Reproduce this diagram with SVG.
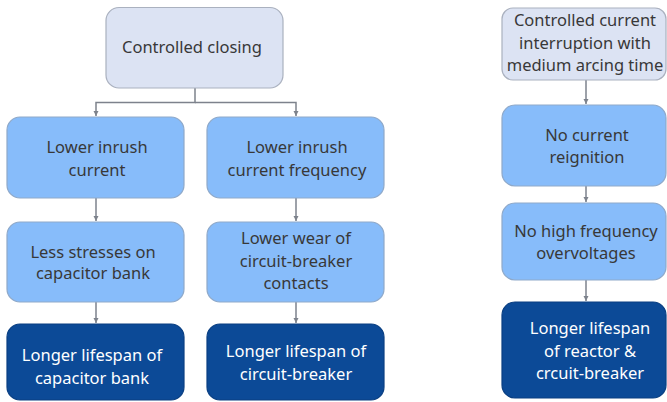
<svg xmlns="http://www.w3.org/2000/svg" width="667" height="402" viewBox="0 0 667 402">
<style>
.top{fill:#dce3f3;stroke:#aab1bf;stroke-width:1.2}
.mid{fill:#87bcfa;stroke:#8fa9c9;stroke-width:1.2}
.dark{fill:#0c4a97;stroke:#0a3f82;stroke-width:1.2}
text{font-family:"Noto Sans","Open Sans",sans-serif;font-size:16.5px;text-anchor:middle}
.t{fill:#383838}
.w{fill:#ffffff}
.c{fill:none;stroke:#7d828c;stroke-width:1.5}
</style>
<defs>
<marker id="ah" markerWidth="6" markerHeight="6" refX="5" refY="3" orient="auto" markerUnits="userSpaceOnUse">
<path d="M0,0.5 L5,3 L0,5.5 z" fill="#7d828c"/>
</marker>
</defs>
<rect width="667" height="402" fill="#ffffff"/>
<g id="connectors">
<path class="c" d="M195,88 V102.5 H96 V116" marker-end="url(#ah)"/>
<path class="c" d="M195,102.5 H296 V116" marker-end="url(#ah)"/>
<path class="c" d="M96,198 V221" marker-end="url(#ah)"/>
<path class="c" d="M296,198 V221" marker-end="url(#ah)"/>
<path class="c" d="M96,302 V323" marker-end="url(#ah)"/>
<path class="c" d="M296,302 V323" marker-end="url(#ah)"/>
<path class="c" d="M586,80 V104" marker-end="url(#ah)"/>
<path class="c" d="M586,186 V202" marker-end="url(#ah)"/>
<path class="c" d="M586,280 V301" marker-end="url(#ah)"/>
</g>
<g id="n1">
<rect class="top" x="106" y="7.5" width="177" height="80.5" rx="13"/>
<text class="t" x="192" y="52.5">Controlled closing</text>
</g>
<g id="n2">
<rect class="mid" x="7" y="117" width="177" height="81" rx="13"/>
<text class="t" x="97" y="153">Lower inrush</text>
<text class="t" x="97" y="176">current</text>
</g>
<g id="n3">
<rect class="mid" x="207" y="117" width="177" height="81" rx="13"/>
<text class="t" x="297" y="153">Lower inrush</text>
<text class="t" x="297" y="176">current frequency</text>
</g>
<g id="n4">
<rect class="mid" x="7" y="222" width="177" height="80" rx="13"/>
<text class="t" x="93" y="258">Less stresses on</text>
<text class="t" x="93" y="279">capacitor bank</text>
</g>
<g id="n5">
<rect class="mid" x="207" y="222" width="177" height="80" rx="13"/>
<text class="t" x="296" y="244">Lower wear of</text>
<text class="t" x="296" y="267">circuit-breaker</text>
<text class="t" x="296" y="289">contacts</text>
</g>
<g id="n6">
<rect class="dark" x="7" y="324" width="177" height="76" rx="13"/>
<text class="w" x="92" y="361">Longer lifespan of</text>
<text class="w" x="92" y="384">capacitor bank</text>
</g>
<g id="n7">
<rect class="dark" x="207" y="324" width="177" height="76" rx="13"/>
<text class="w" x="296" y="357">Longer lifespan of</text>
<text class="w" x="296" y="380">circuit-breaker</text>
</g>
<g id="n8">
<rect class="top" x="502" y="8" width="164" height="72" rx="11"/>
<text class="t" x="585" y="26">Controlled current</text>
<text class="t" x="585" y="49">interruption with</text>
<text class="t" x="585" y="71">medium arcing time</text>
</g>
<g id="n9">
<rect class="mid" x="502" y="105" width="164" height="81" rx="13"/>
<text class="t" x="587" y="141">No current</text>
<text class="t" x="587" y="163">reignition</text>
</g>
<g id="n10">
<rect class="mid" x="502" y="203" width="164" height="77" rx="13"/>
<text class="t" x="586" y="237">No high frequency</text>
<text class="t" x="586" y="259">overvoltages</text>
</g>
<g id="n11">
<rect class="dark" x="502" y="302" width="164" height="96" rx="13"/>
<text class="w" x="590" y="334">Longer lifespan</text>
<text class="w" x="590" y="357">of reactor &amp;</text>
<text class="w" x="590" y="379">crcuit-breaker</text>
</g>
</svg>
